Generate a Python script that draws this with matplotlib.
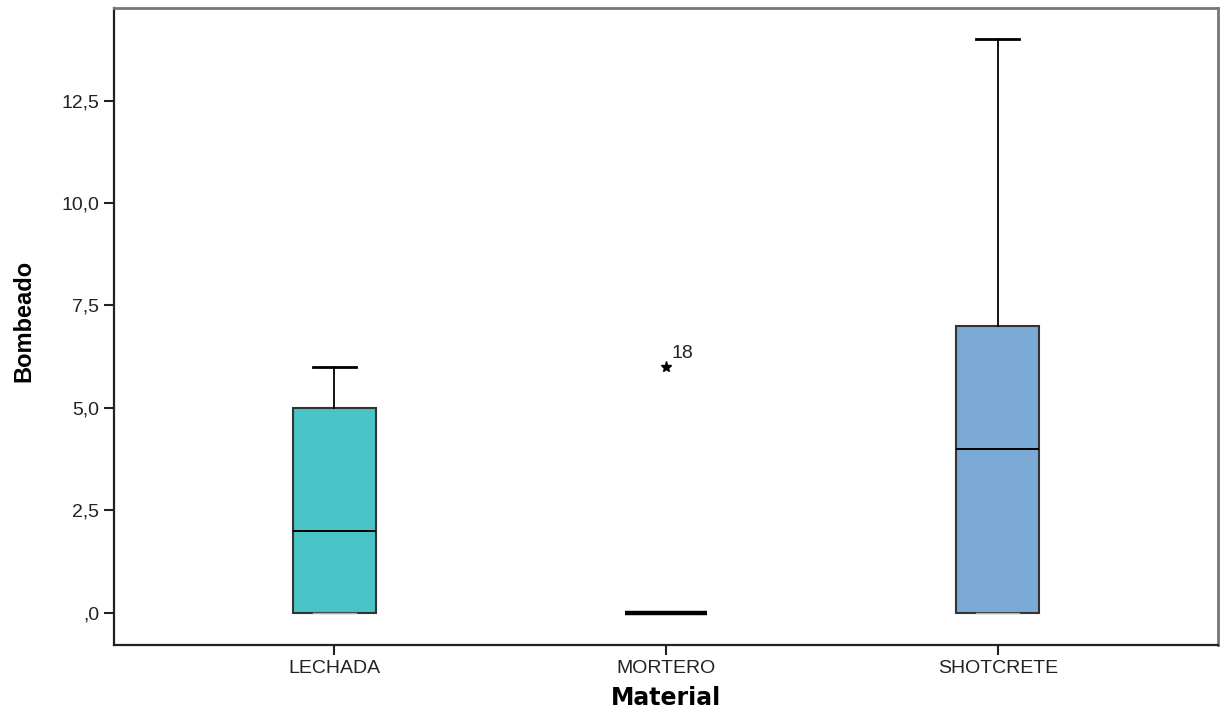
import matplotlib
matplotlib.use("Agg")
import matplotlib.pyplot as plt

# Datos (estilo SPSS)
materiales = ["LECHADA", "MORTERO", "SHOTCRETE"]
minimos = [0, 0, 0]
q1 = [0, 0, 0]
medianas = [2, 0, 4]
q3 = [5, 0, 7]
maximos = [6, 0, 14]
atipicos = [[], [6], []]
etiquetas_atipicos = [[], ["18"], []]
colores = ["#48C3C6", "#ffffff", "#7BAAD6"]

yticks = [0, 2.5, 5, 7.5, 10, 12.5]
ytick_labels = [",0", "2,5", "5,0", "7,5", "10,0", "12,5"]

plt.rcParams["font.family"] = ["Liberation Sans", "DejaVu Sans"]

fig = plt.figure(figsize=(12.27, 7.13), dpi=100)
ax = fig.add_axes([0.0929, 0.0954, 0.8998, 0.8934])

stats = []
for i, nombre in enumerate(materiales):
    stats.append({
        "label": nombre,
        "whislo": minimos[i],
        "q1": q1[i],
        "med": medianas[i],
        "q3": q3[i],
        "whishi": maximos[i],
        "fliers": [],
    })

pos = [1, 2, 3]
bp = ax.bxp(stats, positions=pos, widths=0.25, patch_artist=True,
            showfliers=False,
            boxprops=dict(edgecolor="#333333", linewidth=1.5),
            medianprops=dict(color="black", linewidth=1.4),
            whiskerprops=dict(color="black", linewidth=1.3),
            capprops=dict(color="black", linewidth=2.0),
            capwidths=0.13)
for caja, c in zip(bp["boxes"], colores):
    caja.set_facecolor(c)
# la caja de MORTERO colapsa en una linea gruesa
bp["boxes"][1].set_linewidth(3.2)
bp["boxes"][1].set_edgecolor("black")
for k in range(len(materiales)):
    # el bigote inferior en 0 queda casi oculto
    bp["caps"][2 * k].set_color("#aaaaaa")
    bp["caps"][2 * k].set_linewidth(1.0)

for i, vals in enumerate(atipicos):
    for v, lab in zip(vals, etiquetas_atipicos[i]):
        ax.plot(pos[i], v, marker="*", color="black", markersize=8, linestyle="none")
        ax.annotate(lab, (pos[i], v), xytext=(4, 6), textcoords="offset points",
                    fontsize=14, color="#222222")

ax.set_xlim(1 - 0.664, 3 + 0.664)
ax.set_ylim(-0.79, 14.76)
ax.set_yticks(yticks)
ax.set_yticklabels(ytick_labels)
ax.set_xticks(pos)
ax.set_xticklabels(materiales)
ax.tick_params(axis="both", direction="out", length=7, width=1.5,
               labelsize=14, colors="#222222")

for lado in ["left", "bottom"]:
    ax.spines[lado].set_color("#222222")
    ax.spines[lado].set_linewidth(1.6)
for lado in ["top", "right"]:
    ax.spines[lado].set_color("#777777")
    ax.spines[lado].set_linewidth(2.0)

ax.set_xlabel("Material", family="DejaVu Sans", fontweight="bold", fontsize=17)
ax.xaxis.set_label_coords(0.5, -0.064)
ax.set_ylabel("Bombeado", fontweight="bold", fontsize=17)
ax.yaxis.set_label_coords(-0.071, 0.508)

fig.savefig("out.png", dpi=100)
